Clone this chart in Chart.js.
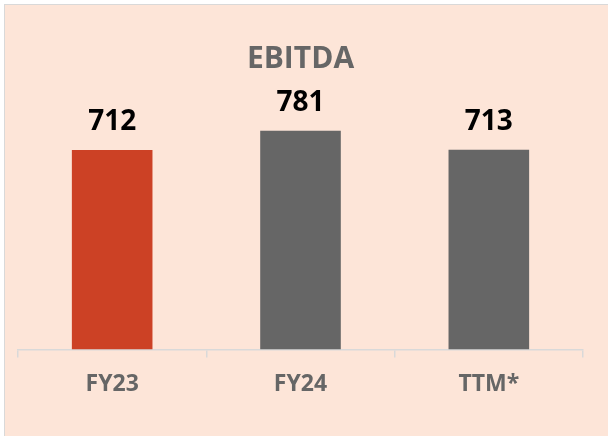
<!DOCTYPE html>
<html>
<head>
<meta charset="utf-8">
<script src="https://cdn.jsdelivr.net/npm/chart.js@4.4.0/dist/chart.umd.min.js"></script>
<style>
html,body{margin:0;padding:0;background:#fff;overflow:hidden;}
#wrap{position:relative;width:608px;height:436px;}
#bg{position:absolute;left:4px;top:4px;width:620px;height:450px;background:#FDE5D8;border:1.5px solid #D9D9D9;box-sizing:border-box;}
#c{position:absolute;left:0;top:0;}
</style>
</head>
<body>
<div id="wrap"><div id="bg"></div><canvas id="c" width="608" height="436"></canvas></div>
<script>
const categories = ["FY23", "FY24", "TTM*"];
const ebitda = [712, 781, 713];
const barColors = ["#CC4125", "#666666", "#666666"];
const chartTitle = "EBITDA";

const valueLabels = {
  id: 'valueLabels',
  afterDatasetsDraw(chart) {
    const ctx = chart.ctx;
    const meta = chart.getDatasetMeta(0);
    ctx.save();
    ctx.font = 'bold 28px "Open Sans"';
    ctx.fillStyle = '#000000';
    ctx.textAlign = 'center';
    ctx.textBaseline = 'alphabetic';
    meta.data.forEach((bar, i) => {
      ctx.fillText(String(chart.data.datasets[0].data[i]), bar.x, bar.y - 20);
    });
    ctx.restore();
  }
};

new Chart(document.getElementById('c'), {
  type: 'bar',
  data: {
    labels: categories,
    datasets: [{
      data: ebitda,
      backgroundColor: barColors,
      borderWidth: 0,
      categoryPercentage: 1,
      barPercentage: 0.428
    }]
  },
  options: {
    responsive: false,
    animation: false,
    devicePixelRatio: 1,
    layout: { padding: { left: 18, right: 25, top: 30, bottom: 25 } },
    plugins: {
      legend: { display: false },
      tooltip: { enabled: false },
      title: {
        display: true,
        text: chartTitle,
        color: '#666666',
        font: { family: '"Open Sans"', size: 30, weight: 'bold', lineHeight: 1.2 },
        padding: { top: 11, bottom: 0 }
      }
    },
    scales: {
      x: {
        grid: { display: true, drawOnChartArea: false, tickLength: 8, color: '#D9D9D9', lineWidth: 1.5 },
        border: { display: true, color: '#D9D9D9', width: 1.5 },
        ticks: { color: '#666666', padding: 13, font: { family: '"Open Sans"', size: 23, weight: 'bold', lineHeight: 1.2 } }
      },
      y: {
        display: false,
        min: 0,
        max: 973
      }
    }
  },
  plugins: [valueLabels]
});
</script>
</body>
</html>
